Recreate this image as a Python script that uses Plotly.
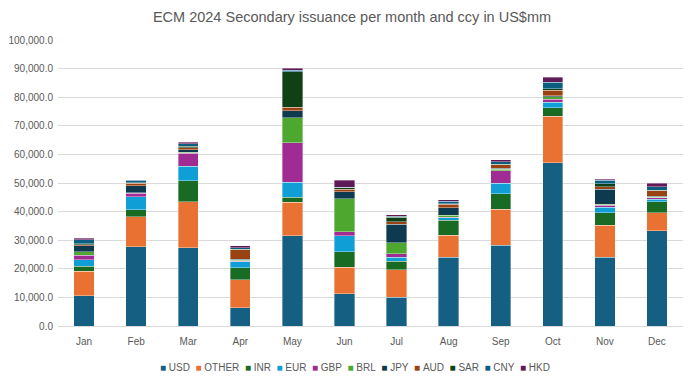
import plotly.graph_objects as go

months = ["Jan", "Feb", "Mar", "Apr", "May", "Jun", "Jul", "Aug", "Sep", "Oct", "Nov", "Dec"]

usd   = [10600, 27700, 27400,  6400, 31500, 11200, 10100, 24100, 28200, 57000, 24100, 33300]
other = [ 8600, 10500, 16100,  9700, 11700,  9400,  9500,  7600, 12700, 16400, 11100,  6300]
inr   = [ 1700,  2400,  7300,  4300,  1900,  5400,  3000,  5300,  5400,  2900,  4400,  3800]
eur   = [ 2200,  4600,  5100,  2100,  5200,  5500,  1400,   800,  3600,  1900,  1900,   900]
gbp   = [ 1600,  1200,  4500,   200, 13800,  1400,  1300,   200,  4300,  1100,   700,   600]
brl   = [ 1300,   200,   400,   300,  8700, 11600,  3800,   800,   600,   800,   300,   200]
jpy   = [ 2100,  2400,   900,   300,  2400,  2500,  6500,  2600,   300,   400,  5300,   200]
aud   = [  300,   900,   600,  3300,  1300,   800,   900,  1100,  1200,  2000,   900,  2000]
sar   = [  400,   200,   600,   300, 12400,   500,  1600,   300,   300,   400,  1000,   200]
cny   = [ 1300,   900,   800,   500,   600,   200,   300,   900,   800,  2400,  1300,  1200]
hkd   = [  600,   200,   500,   600,   600,  2500,   500,   400,   700,  1700,   400,  1200]

series = [
    ("USD", usd, "#156082"),
    ("OTHER", other, "#E97132"),
    ("INR", inr, "#196B24"),
    ("EUR", eur, "#0F9ED5"),
    ("GBP", gbp, "#A02B93"),
    ("BRL", brl, "#4EA72E"),
    ("JPY", jpy, "#0D3A4E"),
    ("AUD", aud, "#9B4212"),
    ("SAR", sar, "#0F4016"),
    ("CNY", cny, "#0A5F80"),
    ("HKD", hkd, "#611A58"),
]

y_ticks = [i * 10000 for i in range(11)]

fig = go.Figure()
for name, vals, col in series:
    fig.add_trace(go.Bar(
        x=months, y=vals, name=name,
        marker=dict(color=col, line=dict(width=0.6, color="rgba(255,255,255,0.6)")),
    ))

FONT = "Liberation Sans, Arial, sans-serif"
TXT = "#595959"

# the page body has an 8px default margin, so the figure is sized to fill the rest
W, H = 688, 376
ML, MR, MT, MB = 50, 13, 32, 58
PW, PH = W - ML - MR, H - MT - MB

legend_text = "&nbsp;&nbsp;".join(
    f"<span style='color:{col}'>■</span>&nbsp;{name}" for name, _, col in series
)

fig.update_layout(
    barmode="stack",
    bargap=0.61,
    width=W, height=H,
    margin=dict(l=ML, r=MR, t=MT, b=MB),
    paper_bgcolor="white",
    plot_bgcolor="white",
    showlegend=False,
    font=dict(family=FONT, color=TXT, size=10),
    title=dict(
        text="ECM 2024 Secondary issuance per month and ccy in US$mm",
        x=0.5, xanchor="center", y=1 - 9 / H, yanchor="middle",
        font=dict(size=14.5, color=TXT, family=FONT),
    ),
    xaxis=dict(
        showgrid=False, zeroline=False, showline=True,
        linecolor="#d9d9d9", linewidth=1, automargin=False,
        ticks="", tickfont=dict(size=10, color=TXT),
        ticklabelstandoff=6,
    ),
    yaxis=dict(
        range=[0, 100000],
        tickvals=y_ticks,
        tickformat=",.1f",
        showgrid=True, gridcolor="#d9d9d9", gridwidth=1,
        zeroline=False, showline=False, ticks="", automargin=False,
        tickfont=dict(size=10, color=TXT),
        ticklabelstandoff=4,
    ),
    annotations=[dict(
        text=legend_text, xref="paper", yref="paper",
        x=0.5 - 16 / PW, y=-41 / PH, xanchor="center", yanchor="middle",
        showarrow=False, font=dict(size=10, color=TXT, family=FONT),
    )],
)

fig.write_html("out.html")
